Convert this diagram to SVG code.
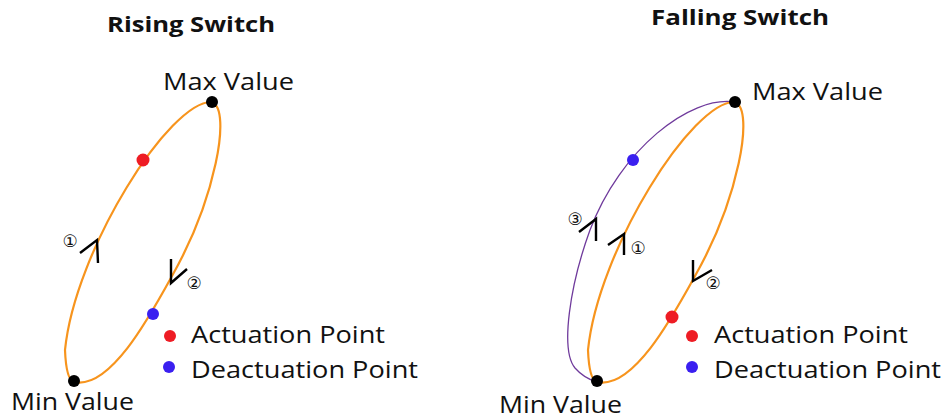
<svg xmlns="http://www.w3.org/2000/svg" width="945" height="419" viewBox="0 0 945 419">
<style>
.t{font-family:"Open Sans","Liberation Sans",sans-serif;font-size:23px;fill:#111}
.h{font-family:"Open Sans","Liberation Sans",sans-serif;font-size:22px;font-weight:bold;fill:#111}
.n{font-family:"DejaVu Sans",sans-serif;font-size:17px;fill:#111}
.or{fill:none;stroke:#f7941d;stroke-width:2.2}
.pu{fill:none;stroke:#6f3a9c;stroke-width:1.3}
.ar{fill:none;stroke:#000;stroke-width:2.4;stroke-linejoin:miter}
.bk{fill:#000}.rd{fill:#ee1c24}.bl{fill:#3a1ff0}
</style>
<g id="rising">
<text class="h" x="191" y="32" text-anchor="middle" textLength="168" lengthAdjust="spacingAndGlyphs">Rising Switch</text>
<g id="connectors-left">
<path class="or" d="M212,102 C170,100 75,250 65,350 C66,375 70,381 74,382"/>
<path class="or" d="M212,102 C232,110 215,200 172,276 C150,316 110,390 74,382"/>
<path class="ar" d="M80,253 L97,240 L98,263"/>
<path class="ar" d="M171,259 L171,283 L187,269"/>
</g>
<text class="n" x="70" y="247" text-anchor="middle">①</text>
<text class="n" x="194" y="289" text-anchor="middle">②</text>
<g id="max-left"><circle class="bk" cx="212" cy="102" r="6"/><text class="t" x="163" y="90" textLength="131" lengthAdjust="spacingAndGlyphs">Max Value</text></g>
<g id="min-left"><circle class="bk" cx="74" cy="381" r="6"/><text class="t" x="11" y="410" textLength="123" lengthAdjust="spacingAndGlyphs">Min Value</text></g>
<g id="act-left"><circle class="rd" cx="143" cy="160" r="6.5"/></g>
<g id="deact-left"><circle class="bl" cx="153" cy="314" r="6"/></g>
<g id="legend-left">
<circle class="rd" cx="170" cy="336" r="6"/><text class="t" x="191" y="343" textLength="194" lengthAdjust="spacingAndGlyphs">Actuation Point</text>
<circle class="bl" cx="169" cy="367" r="6"/><text class="t" x="191" y="378" textLength="227" lengthAdjust="spacingAndGlyphs">Deactuation Point</text>
</g>
</g>
<g id="falling">
<text class="h" x="740" y="25" text-anchor="middle" textLength="178" lengthAdjust="spacingAndGlyphs">Falling Switch</text>
<g id="connectors-right">
<path class="pu" d="M735,102 C690,95 620,150 590,230 C570,285 560,350 575,368 C582,376 590,380 597,382"/>
<path class="or" d="M735,102 C693,100 598,250 588,350 C589,375 593,381 597,382"/>
<path class="or" d="M735,102 C755,110 738,200 695,276 C673,316 633,390 597,382"/>
<path class="ar" d="M579,232 L596,219 L596,241"/>
<path class="ar" d="M608,245 L624,234 L624,255"/>
<path class="ar" d="M693,260 L693,281 L712,270"/>
</g>
<text class="n" x="575" y="225" text-anchor="middle">③</text>
<text class="n" x="638" y="254" text-anchor="middle">①</text>
<text class="n" x="713" y="289" text-anchor="middle">②</text>
<g id="max-right"><circle class="bk" cx="735" cy="102" r="6"/><text class="t" x="752" y="100" textLength="131" lengthAdjust="spacingAndGlyphs">Max Value</text></g>
<g id="min-right"><circle class="bk" cx="597" cy="381" r="6"/><text class="t" x="499" y="413" textLength="123" lengthAdjust="spacingAndGlyphs">Min Value</text></g>
<g id="act-right"><circle class="rd" cx="672" cy="317" r="6.5"/></g>
<g id="deact-right"><circle class="bl" cx="633" cy="160" r="6"/></g>
<g id="legend-right">
<circle class="rd" cx="692" cy="336" r="6"/><text class="t" x="714" y="343" textLength="194" lengthAdjust="spacingAndGlyphs">Actuation Point</text>
<circle class="bl" cx="692" cy="367" r="6"/><text class="t" x="714" y="378" textLength="227" lengthAdjust="spacingAndGlyphs">Deactuation Point</text>
</g>
</g>
</svg>
